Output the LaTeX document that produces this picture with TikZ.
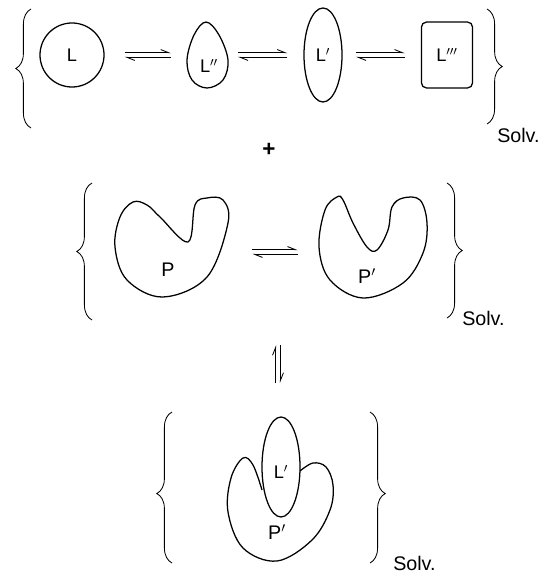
\documentclass[tikz,border=0pt]{standalone}
\usepackage{fontspec}
\setmainfont{Liberation Sans}
\usetikzlibrary{arrows.meta,shapes.geometric,decorations.pathreplacing}

\begin{document}
\begin{tikzpicture}[x=0.025cm,y=-0.025cm,
    lig/.style={draw,line width=0.9pt,inner sep=0pt,font=\fontsize{13}{15}\selectfont},
    hull/.style={inner sep=0pt},
    lab/.style={inner sep=0pt,font=\fontsize{13}{15}\selectfont},
    outline/.style={line width=0.9pt,tension=0.6},
    harp/.style={-{Straight Barb[left,length=2mm,width=1.6mm]},line width=0.6pt},
    brace/.style={decorate,decoration={brace,amplitude=0.38cm},line width=0.6pt},
    solv/.style={anchor=west,inner sep=0pt,font=\fontsize{14}{16}\selectfont},
]
\useasboundingbox (0,0) rectangle (541,577);

% Ligand conformers
\node[lig,circle,minimum size=1.6cm] (L) at (72,55) {L};
\draw[outline] plot[smooth cycle] coordinates {(206,22) (194,35) (187,60) (192,80) (207,88) (223,80) (228,60) (219,35)};
\node[hull,minimum width=1.03cm,minimum height=1.65cm] (L2) at (207,55) {};
\node[lab] at (209,66) {L$''$};
\node[lig,ellipse,minimum width=0.95cm,minimum height=2.35cm] (L1) at (323,55) {L$'$};
\node[lig,rectangle,rounded corners=0.13cm,minimum width=1.28cm,minimum height=1.65cm] (L3) at (447,55) {L$'''$};
\draw[harp,shorten <=0.5cm,shorten >=0.38cm] ([yshift=1.6pt]L.east) -- ([yshift=1.6pt]L2.west);
\draw[harp,shorten <=0.38cm,shorten >=0.5cm] ([yshift=-1.6pt]L2.west) -- ([yshift=-1.6pt]L.east);
\draw[harp,shorten <=0.25cm,shorten >=0.4cm] ([yshift=1.6pt]L2.east) -- ([yshift=1.6pt]L1.west);
\draw[harp,shorten <=0.4cm,shorten >=0.25cm] ([yshift=-1.6pt]L1.west) -- ([yshift=-1.6pt]L2.east);
\draw[harp,shorten <=0.33cm,shorten >=0.4cm] ([yshift=1.6pt]L1.east) -- ([yshift=1.6pt]L3.west);
\draw[harp,shorten <=0.4cm,shorten >=0.33cm] ([yshift=-1.6pt]L3.west) -- ([yshift=-1.6pt]L1.east);
\draw[brace] (31,128) -- (31,9);
\draw[brace] (487,9) -- (487,124);
\node[solv] (s1) at (497,135) {Solv.};

\node[font=\fontsize{16}{18}\selectfont\bfseries] (plus) at (269,150) {+};

% Protein conformers
\draw[outline] plot[smooth cycle] coordinates {(133,202) (120,217) (115,247) (127,280) (163,297) (207,277) (228,223) (223,200) (207,198) (195,205) (188,242) (160,217) (147,205)};
\node[hull,minimum width=2.9cm,minimum height=2.6cm] (P) at (172,252) {};
\node[lab,font=\fontsize{14}{16}\selectfont] at (168,270) {P};
\draw[outline] plot[smooth cycle] coordinates {(337,197) (325,210) (319,247) (330,280) (363,298) (403,283) (423,253) (427,223) (420,200) (403,198) (392,207) (388,230) (377,250) (367,247) (353,223) (343,200)};
\node[hull,minimum width=2.75cm,minimum height=2.6cm] (P1) at (373,252) {};
\node[lab,font=\fontsize{14}{16}\selectfont] at (367,276) {P$'$};
\draw[harp,shorten <=0.55cm,shorten >=0.5cm] ([yshift=1.6pt]P.east) -- ([yshift=1.6pt]P1.west);
\draw[harp,shorten <=0.5cm,shorten >=0.55cm] ([yshift=-1.6pt]P1.west) -- ([yshift=-1.6pt]P.east);
\draw[brace] (92,320) -- (92,183);
\draw[brace] (447,183) -- (447,318);
\node[solv] (s2) at (462,318) {Solv.};

% Binding
\coordinate (up) at (278,345);
\coordinate (dn) at (278,383);
\draw[harp] ([xshift=-1.6pt]dn) -- ([xshift=-1.6pt]up);
\draw[harp] ([xshift=1.6pt]up) -- ([xshift=1.6pt]dn);

% Complex
\draw[outline] plot[smooth] coordinates {(300,471) (313,463) (326,467) (333,485) (330,510) (312,540) (277,561) (243,548) (228,512) (231,478) (243,458) (253,465) (262,490)};
\node[lig,ellipse,minimum width=0.95cm,minimum height=2.5cm] (Lb) at (281,467) {};
\node[lab] at (281,472) {L$'$};
\node[lab,font=\fontsize{14}{16}\selectfont] at (277,532) {P$'$};
\draw[brace,decoration={aspect=0.46}] (172,563) -- (172,412);
\draw[brace,decoration={aspect=0.54}] (370,412) -- (370,563);
\node[solv] (s3) at (393,563) {Solv.};
\end{tikzpicture}
\end{document}
